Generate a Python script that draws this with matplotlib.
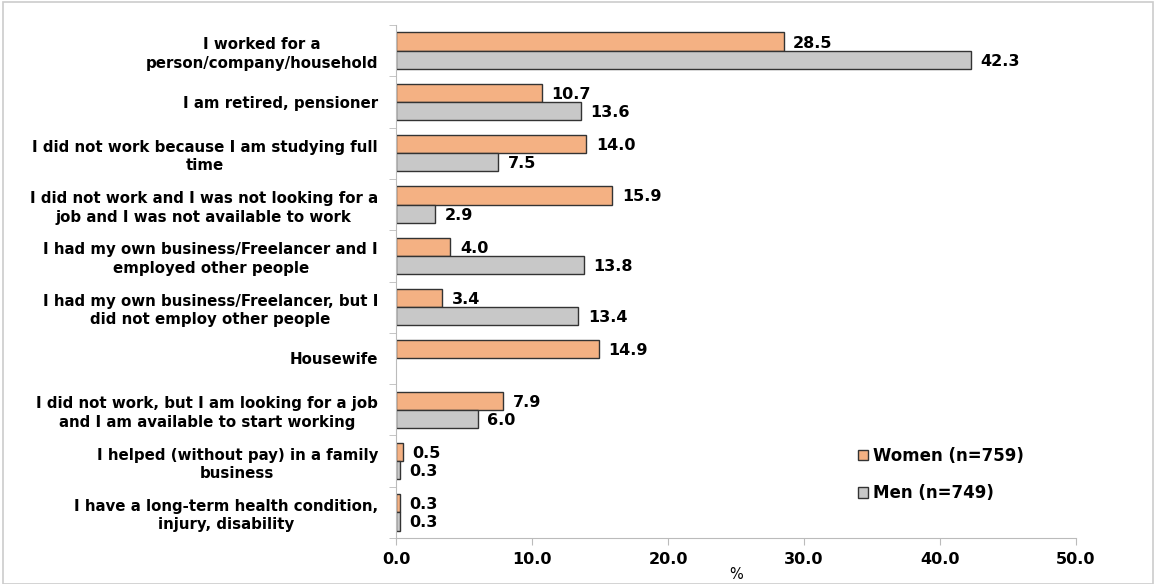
import matplotlib
matplotlib.use("Agg")
import matplotlib.pyplot as plt
import numpy as np
from matplotlib.patches import Rectangle, Patch

categories = [
    "I worked for a\nperson/company/household",
    "I am retired, pensioner",
    "I did not work because I am studying full\ntime",
    "I did not work and I was not looking for a\njob and I was not available to work",
    "I had my own business/Freelancer and I\nemployed other people",
    "I had my own business/Freelancer, but I\ndid not employ other people",
    "Housewife",
    "I did not work, but I am looking for a job\nand I am available to start working",
    "I helped (without pay) in a family\nbusiness",
    "I have a long-term health condition,\ninjury, disability",
]
women = [28.5, 10.7, 14.0, 15.9, 4.0, 3.4, 14.9, 7.9, 0.5, 0.3]
men = [42.3, 13.6, 7.5, 2.9, 13.8, 13.4, None, 6.0, 0.3, 0.3]
xticks = [0, 10, 20, 30, 40, 50]

plt.rcParams['font.family'] = ['DejaVu Sans']

fig = plt.figure(figsize=(11.57, 5.84), dpi=100)
ax = fig.add_axes([396/1157, 1 - 538/584, (1076-396)/1157, (538-25)/584])

n = len(categories)
y = np.arange(n)
h = 0.355
wc = "#F4B183"
mc = "#C8C8C8"
for i in range(n):
    ax.barh(i - h/2, women[i], height=h, color=wc, edgecolor="#333333", linewidth=1.0)
    ax.text(women[i] + 0.7, i - h/2 + 0.03, f"{women[i]:.1f}", va="center", ha="left",
            fontsize=11.5, fontweight="bold")
    if men[i] is not None:
        ax.barh(i + h/2, men[i], height=h, color=mc, edgecolor="#333333", linewidth=1.0)
        ax.text(men[i] + 0.7, i + h/2 + 0.03, f"{men[i]:.1f}", va="center", ha="left",
                fontsize=11.5, fontweight="bold")

ax.set_ylim(n - 0.5, -0.5)
ax.set_xlim(0, 50)
ax.set_xticks(xticks)
ax.set_xticklabels([f"{v:.1f}" for v in xticks], fontsize=11.5, fontweight="bold")
ax.set_xlabel("%", fontsize=10.5, labelpad=0)

ax.set_yticks(y)
ax.set_yticklabels(categories, fontsize=10.8, fontweight="bold", multialignment="center",
                   linespacing=1.3)
ax.tick_params(axis="y", length=0, pad=13)
ax.set_yticks(np.arange(-0.5, n, 1), minor=True)
ax.tick_params(axis="y", which="minor", length=5, color="#BBBBBB", direction="out")
ax.tick_params(axis="x", length=5, color="#BBBBBB", direction="out", pad=5)

for s in ["top", "right"]:
    ax.spines[s].set_visible(False)
for s in ["left", "bottom"]:
    ax.spines[s].set_color("#BBBBBB")

handles = [Patch(facecolor=wc, edgecolor="#333333", label="Women (n=759)"),
           Patch(facecolor=mc, edgecolor="#333333", label="Men (n=749)")]
ax.legend(handles=handles, loc="upper left", bbox_to_anchor=((843-396)/680, (538-432)/513),
          frameon=False, prop={"size": 12, "weight": "bold"},
          handlelength=0.6, handleheight=0.6, handletextpad=0.3, labelspacing=1.15)

fig.patches.append(Rectangle((3/1157, 0), 1150/1157, 1 - 2/584, transform=fig.transFigure,
                             fill=False, edgecolor="#CCCCCC", linewidth=1.2))

fig.savefig("out.png", dpi=100)
